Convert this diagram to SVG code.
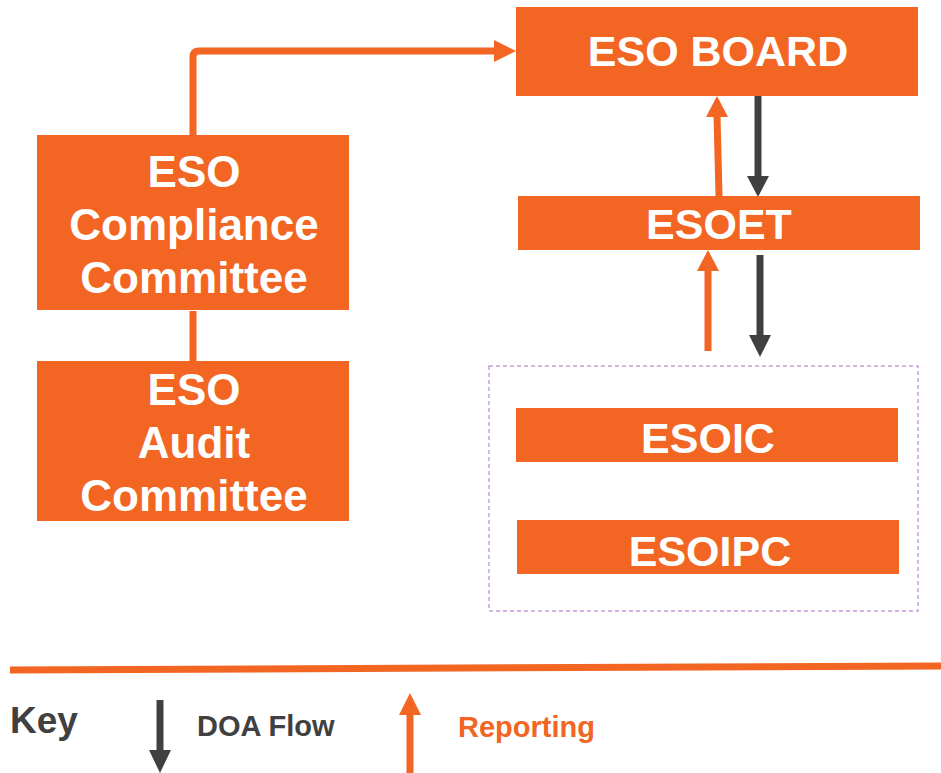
<svg xmlns="http://www.w3.org/2000/svg" width="941" height="773" viewBox="0 0 941 773">
<style>
.box{fill:#F26522}
.t{font-family:"Liberation Sans",Arial,sans-serif;font-weight:bold;fill:#ffffff;text-anchor:middle;font-size:43px}
.t2{font-size:44px}
.or{stroke:#F26522;stroke-width:7;fill:none}
.dk{stroke:#404040;stroke-width:7;fill:none}
.ohead{fill:#F26522}
.dhead{fill:#404040}
.k{font-family:"Liberation Sans",Arial,sans-serif;font-weight:bold}
</style>
<rect width="941" height="773" fill="#ffffff"/>
<g id="connectors">
<path class="or" d="M193,135 V57 Q193,51 199,51 H497"/>
<polygon class="ohead" points="494,40 516,51 494,62"/>
<line class="or" x1="193" y1="311" x2="193" y2="361"/>
<line class="or" x1="719" y1="196" x2="717" y2="115"/>
<polygon class="ohead" points="706,117 717,96 728,117"/>
<line class="dk" x1="758" y1="96" x2="758" y2="178"/>
<polygon class="dhead" points="747,176 758,197 769,176"/>
<line class="or" x1="708" y1="351" x2="708" y2="269"/>
<polygon class="ohead" points="697,271 708,250 719,271"/>
<line class="dk" x1="760" y1="255" x2="760" y2="337"/>
<polygon class="dhead" points="749,335 760,357 771,335"/>
</g>
<g id="board">
<rect class="box" x="516" y="7" width="402" height="89"/>
<text class="t" x="718" y="66">ESO BOARD</text>
</g>
<g id="esoet">
<rect class="box" x="518" y="196" width="402" height="54"/>
<text class="t" x="719" y="239">ESOET</text>
</g>
<g id="group">
<rect x="489" y="366" width="429" height="245" fill="none" stroke="#C9A0DC" stroke-width="1.5" stroke-dasharray="4,3"/>
</g>
<g id="esoic">
<rect class="box" x="516" y="408" width="382" height="54"/>
<text class="t" x="708" y="453">ESOIC</text>
</g>
<g id="esoipc">
<rect class="box" x="517" y="520" width="382" height="54"/>
<text class="t" x="710" y="566">ESOIPC</text>
</g>
<g id="compliance">
<rect class="box" x="37" y="135" width="312" height="175"/>
<text class="t t2" x="194" y="187">ESO</text>
<text class="t t2" x="194" y="240">Compliance</text>
<text class="t t2" x="194" y="293">Committee</text>
</g>
<g id="audit">
<rect class="box" x="37" y="361" width="312" height="160"/>
<text class="t t2" x="194" y="405">ESO</text>
<text class="t t2" x="194" y="458">Audit</text>
<text class="t t2" x="194" y="511">Committee</text>
</g>
<g id="key">
<line x1="10" y1="670" x2="941" y2="666" stroke="#F26522" stroke-width="7"/>
<text class="k" x="10" y="733" font-size="37" fill="#404040">Key</text>
<line class="dk" x1="160" y1="700" x2="160" y2="752"/>
<polygon class="dhead" points="149,750 160,773 171,750"/>
<text class="k" x="197" y="736" font-size="29" fill="#404040">DOA Flow</text>
<line class="or" x1="410" y1="773" x2="410" y2="712"/>
<polygon class="ohead" points="399,715 410,693 421,715"/>
<text class="k" x="458" y="737" font-size="29" fill="#F26522">Reporting</text>
</g>
</svg>
